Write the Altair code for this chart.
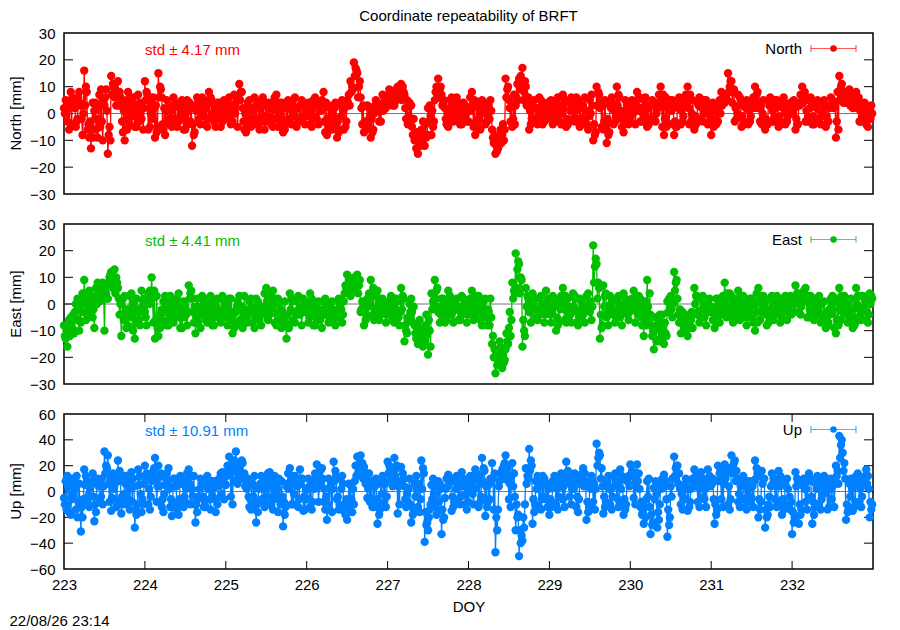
import altair as alt
import pandas as pd

FONT = "Liberation Sans"
W = 809

TITLE = "Coordinate repeatability of BRFT"
STAMP = "22/08/26 23:14"
X_LABEL = "DOY"

FIRST_DOY = 223
PER_DAY = 24  # one value per hour in each list; the lists are offset by 15 min

# ---- North (mm): on the hour, +15, +30, +45 min ----
north = [
    2, -3, 8, 5, -2, 3, 16, -6, -13, 1, -9, 9, 3, -15, 14, 6, 12, 4, -10, 8, 1, -5, 7, -2,
    12, -6, 4, -9, 15, 6, -8, 2, -5, 4, -3, 5, -6, 1, -12, 3, -2, 6, -4, 8, 0, -5, 4, -3,
    -2, 6, -3, 4, 11, 2, -7, 5, -4, 3, -6, 6, -3, 2, -5, 7, 0, -7, 4, -2, 5, -5, 3, -1,
    3, -4, 5, -2, 4, 8, -8, 2, -5, -9, 3, -6, 5, 12, 19, 15, 6, -7, 3, -9, 0, 4, -3, 6,
    5, 8, 3, 10, 11, 7, -4, 3, -10, -15, -6, -12, 2, -8, 5, 13, 7, 2, -5, 6, -2, 4, -4, 3,
    -3, 8, -8, 2, 5, -4, 3, -6, -15, -12, -8, 13, 5, -5, 3, 13, 17, 10, -6, 4, -3, 6, -4, 2,
    2, -4, 5, -3, 7, -5, 4, -2, 6, -5, 3, -4, 5, -10, 10, 2, -6, -11, 3, -4, 10, 1, -7, 3,
    -2, 4, 8, -3, 5, -5, 3, -2, 4, 10, -8, 2, 5, -8, 3, -4, 6, 10, -3, -6, 4, -2, 5, -4,
    -8, 3, -3, 8, 4, 15, 12, -3, 7, -5, 4, -4, 3, 10, 2, -4, -6, 5, -3, 5, -5, 3, -4, 2,
    3, -6, 4, 10, -3, 5, -4, 3, -2, 4, -5, 2, 5, -9, 14, 6, 4, 9, 2, 8, -3, 3, -4, 1,
]
north_15 = [
    0, 4, -4, 2, 6, -2, 3, -4, -6, 4, 2, -3, 6, -8, 7, 9, 3, -3, 2, -2, 4, 2, -3, 3,
    5, 2, -2, 3, 6, -4, 1, -2, 3, -3, 2, 0, -3, 4, -4, 1, 3, -1, 2, 4, -2, 1, -1, 2,
    3, -2, 2, 6, 5, -3, 2, -2, 1, -3, 2, -1, 3, -3, 2, 1, -3, 2, -3, 3, -1, 2, -2, 3,
    -1, 2, -2, 3, 1, -3, -2, -4, 2, -3, -1, 2, 4, 8, 14, 6, 2, -3, -4, -2, 3, 1, 2, 5,
    7, 4, 6, 8, 5, 2, -1, -5, -8, -9, -10, -4, -3, 1, 8, 6, 3, -2, 2, 1, 3, -1, 2, 0,
    2, 3, -3, -2, 1, 2, -2, -9, -12, -10, -4, 6, 2, -2, 6, 9, 5, 3, 1, -2, 2, -1, 1, -2,
    -1, 2, 1, 3, 2, -2, 1, 3, -2, 2, -3, 1, 0, -4, 3, 4, -3, -2, 2, 1, 3, -2, 1, -1,
    2, 3, 1, 2, -1, 2, -2, 3, 2, 4, -2, 3, 1, -3, 2, 1, 3, 2, 0, -1, 3, 2, 0, 1,
    -2, 1, 2, 3, 6, 8, 4, 2, 3, -1, 2, 1, 4, 5, 3, 0, -2, 3, 1, 2, -1, 2, 0, 1,
    0, -2, 3, 4, 1, 2, -1, 2, 1, 0, -1, 3, 2, -3, 5, 4, 6, 3, 5, 2, 1, -1, 0, -2,
]
north_30 = [
    5, -6, 6, -5, 8, -8, 10, -9, 4, -6, 7, -10, 9, -5, 11, 3, 8, -7, 5, -4, 6, -5, 4, -6,
    8, -5, 6, -7, 10, -6, 5, -4, 6, -5, 4, -6, 5, -3, -8, 6, -4, 5, -5, 6, -3, 4, -5, 5,
    5, -4, 7, -5, 8, -6, 4, -5, 6, -4, 5, -6, 4, -4, 6, -5, 4, -6, 5, -4, 6, -3, 5, -4,
    4, -5, 6, -4, 5, -7, 3, -6, 4, -7, 5, -5, 7, 10, 17, 10, -4, -6, 2, -7, 5, -3, 7, 2,
    9, 3, 9, 6, 10, -2, 4, -8, -13, -12, -3, -9, 3, -5, 10, 9, 4, -4, 5, -3, 6, -4, 4, -3,
    6, -5, 4, -6, 4, -3, 5, -11, -14, -6, -10, 9, -3, 7, 11, 14, 8, 6, -4, 5, -4, 5, -3, 4,
    5, -3, 6, -4, 5, -4, 6, -3, 5, -4, 6, -6, 7, -8, 8, -5, 5, -8, 6, -3, 7, -5, 5, -4,
    5, -4, 6, -3, 6, -4, 5, -3, 7, -5, 6, -4, 5, -5, 6, -3, 7, -4, 5, -4, 6, -3, 5, -3,
    4, -4, 5, 5, 7, 10, 8, -2, 6, -4, 5, -3, 6, 7, -3, 5, -4, 6, -3, 5, -4, 6, -3, 4,
    5, -4, 7, 6, -3, 6, -4, 5, -4, 5, -3, 6, 3, 8, 10, 8, 7, 6, 4, 5, -3, 4, -5, 3,
]
north_45 = [
    1, 3, 5, -3, 4, 0, 8, -3, -9, -2, -5, 5, 1, -10, 10, 8, 6, 1, -6, 4, -1, 0, 3, 2,
    7, 0, 2, -5, 9, 2, -4, 1, -2, 3, -1, 3, -4, 3, -7, 4, 1, 3, -2, 5, 2, -2, 1, 0,
    1, 3, 0, 5, 8, 0, -4, 2, -2, 4, -3, 3, -1, 4, -2, 4, -2, -4, 2, 1, 2, -2, 4, 1,
    2, -1, 3, 1, 2, 4, -5, 0, -2, -6, 1, -3, 3, 9, 16, 12, 3, -5, -1, -6, 2, 3, 1, 4,
    6, 6, 5, 9, 8, 5, -2, -2, -7, -12, -8, -8, -1, -3, 7, 10, 5, 0, -2, 4, 0, 2, -1, 1,
    1, 5, -5, 0, 3, -1, 1, -8, -13, -11, -6, 10, 3, -4, 5, 11, 12, 6, -2, 2, -1, 4, -2, 1,
    3, -1, 3, 0, 5, -3, 3, 1, 4, -2, 1, -1, 3, -7, 7, 3, -4, -7, 4, -1, 6, -1, -3, 2,
    0, 2, 6, 0, 3, -2, 4, 0, 3, 7, -5, 2, 3, -5, 4, -1, 4, 7, -1, -3, 3, 0, 3, -1,
    -5, 2, 0, 6, 5, 12, 9, 0, 5, -3, 3, -1, 2, 8, 3, -2, -4, 4, -1, 4, -3, 4, -1, 3,
    2, -4, 4, 8, -1, 4, -2, 4, -1, 3, -3, 3, 4, -6, 11, 5, 5, 7, 3, 6, -1, 2, -2, 0,
]

# ---- East (mm) ----
east = [
    -8, -16, -5, -11, 2, -7, 9, -4, 3, -9, 8, 5, -10, 2, 12, 13, 6, -12, 3, -8, 4, -13, -2, 5,
    -3, 4, 10, -13, -12, -2, 3, -8, 1, -5, 4, -9, -1, 7, 2, -11, -4, 3, -6, 2, -8, 1, -4, 3,
    -5, 2, -11, -3, 3, -9, -2, 1, -7, 2, -6, -1, 6, -4, 5, -8, 0, -5, -13, 4, -6, 1, -4, 2,
    -3, 4, -8, -1, -6, 1, -4, 0, -7, -2, -5, 1, 11, 3, 10, 11, -3, -8, 2, 9, -6, 5, -4, 1,
    -2, 3, -7, 1, 6, -14, -5, 2, -8, -15, -10, -14, -19, 4, 9, -3, 2, -7, 5, -4, 1, -6, 3, -2,
    -1, 5, -4, 3, -8, 2, -3, -15, -26, -21, -24, -17, -9, 8, 19, 15, -16, 6, -3, 4, -5, 2, -2, 5,
    -2, 3, -10, 1, 6, -7, -1, 4, -7, 2, -4, 3, -3, 22, 15, -13, 7, -5, 3, -4, 2, -5, 4, -2,
    -2, 5, -3, 2, -12, 9, -4, -17, -8, -13, -15, 1, 3, 12, 2, -11, -4, -12, -6, 6, -3, 2, -5, 1,
    -3, -9, 2, -4, 8, -2, 3, -6, 5, -4, 1, -5, 2, -10, 6, -3, 1, -7, 3, -4, 2, -5, 3, -2,
    1, 7, -3, 4, 6, -5, 2, -4, 3, -6, -9, -2, 3, -11, 6, -3, 2, -5, -9, 6, -2, 3, -6, 4,
]
east_15 = [
    -12, -10, -7, -3, -6, 0, 2, -2, 0, 3, 4, 2, 6, 8, 9, 4, 2, -4, -6, -2, -5, -3, -6, -1,
    -5, 0, 2, -6, -4, -6, -1, -4, -2, 0, -5, -2, -4, 2, -3, -5, -1, -4, -2, -5, -3, -1, -5, -2,
    -3, -6, -4, -1, -6, -3, -5, -2, -3, -4, -1, -3, 1, -2, 0, -4, -2, -6, -4, -2, -3, -4, -1, -3,
    -1, -4, -2, -5, -3, -4, -2, -5, -3, -4, -2, 4, 6, 8, 5, 4, -2, -3, -1, 3, -2, -1, -3, -2,
    -4, -1, -3, -5, -2, -8, -6, -3, -11, -9, -12, -8, -6, -2, 2, -1, -4, -2, 0, -3, -2, -1, -4, 0,
    -3, 1, -2, -1, -3, -5, -8, -12, -18, -14, -19, -11, -3, 2, 6, 4, -6, -1, -3, 0, -2, -4, 0, -2,
    -4, -1, -5, -2, 0, -3, -4, -1, -3, -5, -1, -2, 1, 8, 2, -4, -1, -3, 0, -2, -4, -1, -3, -4,
    -1, 0, -4, -5, -3, -1, -8, -10, -6, -9, -7, -3, -2, 5, -4, -6, -8, -7, -3, 0, -4, -2, -1, -3,
    -1, -4, 0, -2, 2, -3, 0, -4, 1, -2, -3, -1, -4, -3, 1, -2, -4, -3, -1, -2, 0, -3, -1, -3,
    2, 1, 0, 2, 1, -2, -3, -1, -4, -5, -6, -4, -2, -6, 0, -2, -4, -3, -5, 0, -4, -1, -3, 0,
]
east_30 = [
    -13, -6, -9, 0, -10, 4, -6, 5, -5, 6, 1, 8, 4, 10, 6, 10, -4, 2, -9, 3, -10, 2, -8, 1,
    -8, 5, -7, 3, -9, 1, -8, 3, -7, 2, -9, 1, -8, 4, -7, 2, -9, 1, -7, 3, -8, 2, -7, 1,
    -8, 2, -9, 1, -8, 3, -7, 2, -9, 1, -8, 4, -6, 3, -7, 2, -9, 1, -8, 2, -7, 3, -8, 1,
    -7, 2, -8, 1, -9, 2, -7, 1, -8, 2, -7, 7, 9, 5, 9, 7, 1, -6, 4, -4, 3, -6, 2, -7,
    1, -6, 2, -8, 3, -10, 0, -7, -13, -6, -16, -4, -10, 1, 5, -7, 2, -6, 3, -7, 2, -6, 2, -7,
    2, -6, 3, -6, 1, -8, 2, -20, -23, -16, -22, -14, -12, 5, 13, 10, -10, 3, -7, 2, -6, 3, -7, 1,
    -7, 2, -8, 3, -6, 2, -7, 3, -8, 1, -7, 4, -6, 14, 8, -9, 3, -8, 2, -7, 3, -8, 2, -6,
    2, -7, 3, -8, 1, -6, -12, -5, -14, -4, -11, 2, -5, 8, -7, -3, -10, -4, -9, 3, -7, 3, -8, 2,
    -6, 2, -7, 3, -5, 4, -7, 2, -6, 3, -8, 2, -7, 4, -6, 3, -8, 2, -6, 3, -7, 2, -6, 3,
    -3, 4, -4, 5, -5, 3, -6, 2, -7, 1, -8, 2, -9, 2, -6, 3, -7, 2, -8, 3, -6, 2, -7, 3,
]
east_45 = [
    -10, -12, -4, -6, -2, -3, 4, 1, -2, 0, 6, 4, 2, 11, 7, 8, 0, -6, -2, -4, 0, -7, -3, 2,
    0, 2, 5, -9, -8, -3, 1, -5, -1, -3, 0, -5, -3, 5, -1, -7, -2, 0, -4, -1, -5, -2, -3, 0,
    -2, -3, -7, 0, -1, -5, -3, -1, -5, -1, -3, -4, 3, -1, 2, -6, -3, -8, -9, 1, -3, -2, -3, 0,
    -5, 1, -4, -3, -2, -1, -6, -2, -5, 0, -4, 6, 9, 6, 8, 9, -1, -5, 1, 6, -4, 2, -1, -4,
    -1, 0, -5, -3, 2, -11, -3, -1, -10, -12, -14, -11, -16, 0, 6, -4, 0, -4, 2, -1, -2, -3, 0, -4,
    0, 3, -1, 1, -5, -2, -5, -17, -22, -18, -21, -15, -6, 4, 16, 9, -12, 2, -1, 2, -3, 0, -4, 2,
    -3, 0, -7, -1, 3, -5, -2, 2, -5, -1, -2, 0, -1, 17, 6, -8, 4, -2, 1, -5, 0, -2, 1, -3,
    0, 3, -2, -1, -8, 4, -10, -14, -4, -11, -12, -1, 0, 9, -2, -8, -6, -9, -4, 3, -5, 0, -3, -1,
    -2, -6, -1, 0, 4, -5, 1, -2, 3, -5, -1, -3, 0, -7, 3, 0, -2, -5, 1, -1, -2, -1, 1, -4,
    0, 4, -1, 3, 3, -3, 0, -2, 0, -4, -7, 0, 1, -8, 3, -1, 0, -2, -7, 3, -3, 1, -4, 2,
]

# ---- Up (mm) ----
up = [
    -5, 12, -18, 8, -20, -31, 17, -8, 6, -23, 10, -4, 31, 28, -15, 5, 24, -17, 12, -6, 15, -28, 17, -16,
    20, -10, 8, 26, 20, -12, 5, 18, -19, 10, -18, 6, -8, 17, 2, -24, -5, 8, -12, 6, -3, -16, 10, 15,
    5, 27, -10, 31, 18, 22, 8, -12, 6, -24, 3, -8, 10, 15, -14, 5, -6, -27, 4, 18, -10, 6, 17, -15,
    2, -12, 8, 21, 16, -8, -22, 4, 23, -6, 10, -15, -22, 5, -10, 27, 28, 19, -5, 8, -12, -25, 6, -8,
    23, 10, 26, -17, 19, 4, -8, -24, 6, -12, 24, -39, -30, 5, -10, 8, -33, -5, 13, -15, 8, -6, 15, -10,
    -8, 10, 17, -12, 26, -19, 5, 22, -47, 4, 17, 28, -6, 22, -30, -50, -38, 18, 33, -25, 8, -12, 12, -6,
    -18, 8, -10, 12, -6, 23, -4, 10, -12, 6, 18, -22, 5, -8, 37, 28, -17, 6, -10, 12, -5, 17, -18, 8,
    21, -5, 21, -12, -25, 8, -33, 3, -28, 6, 13, -35, 4, 27, 20, -10, 5, -15, 2, 17, -8, 15, -6, 17,
    5, -25, 20, -6, 21, -10, 28, 24, -8, 10, -12, 2, -5, 24, -20, 16, -28, -10, 14, -6, 16, -18, 8, -12,
    -33, 15, -25, 5, -8, 14, -25, 6, -10, 8, 10, -12, 4, 20, 43, 30, -22, 6, -15, 12, -8, 5, 17, -20,
]
up_15 = [
    -10, 4, -6, 2, -8, -12, 5, -3, 8, -10, 4, 10, 14, 6, -5, 10, 8, -4, 6, 2, -8, -14, 5, -6,
    8, 2, 12, 10, 4, -6, 10, 2, -8, 4, -6, 8, 2, 6, -4, -10, 2, -4, 4, -6, 2, -6, 6, 10,
    12, 14, 18, 20, 10, 12, 2, -6, -4, -10, 6, 2, -4, 8, -6, 2, -10, -8, 6, 8, -2, 4, 6, -4,
    -6, 4, 2, 10, 6, 2, -10, 6, 8, -4, 2, -10, -12, -6, 8, 14, 16, 10, 2, -6, 4, -10, -2, 6,
    14, 16, 12, 4, 8, -6, 2, -12, -4, 6, 2, -16, -20, -6, 4, -8, -14, 2, 6, -4, 2, 6, 4, -2,
    4, -2, 10, 6, 8, 4, -6, 10, -20, 8, 10, 14, 6, 4, -10, -30, -20, 6, 16, -6, 2, 4, -4, 6,
    -6, 4, 2, 8, 4, 10, 6, 2, -4, 10, 4, -8, 2, 6, 20, 10, -4, 8, 2, 4, 6, 2, -6, 10,
    12, 6, 8, -8, -12, -4, -18, -6, -16, 2, 4, -14, -4, 12, 6, -2, -6, 2, 8, 4, 10, 6, 2, 10,
    6, -10, 8, 12, 10, 4, 14, 8, -2, 4, 6, -4, 4, 10, -6, 6, -14, -4, 6, 8, 4, -6, 4, -4,
    -16, 4, -10, 6, 2, 8, -8, 2, 4, -2, 6, 2, 8, 12, 26, 16, -10, -4, 4, 8, 2, 10, 6, -8,
]
up_30 = [
    8, -16, 10, -14, 6, -20, 12, -12, 14, -16, 8, -10, 20, -8, 14, -12, 16, -10, 12, -14, 10, -18, 12, -10,
    14, -14, 16, -8, 12, -16, 14, -12, 10, -14, 12, -12, 14, -10, 12, -16, 10, -12, 12, -14, 8, -10, 14, -6,
    20, -4, 24, 6, 22, 14, 10, -14, 12, -16, 12, -12, 14, -10, 12, -16, 8, -18, 14, -10, 12, -12, 10, -14,
    10, -14, 14, -8, 18, -14, 10, -16, 16, -14, 12, -18, 6, -16, 20, 18, 22, 6, 14, -12, 10, -18, 12, -12,
    20, 4, 18, -10, 14, -12, 10, -18, 12, -16, 18, -26, -14, 10, -18, 6, -22, 10, 8, -12, 12, -10, 10, -14,
    12, -10, 14, -8, 18, -12, 10, -14, -30, 14, 20, 18, -12, 14, -20, -40, -28, 12, 24, -16, 12, -14, 10, -12,
    -12, 12, -14, 14, -12, 16, -10, 14, -16, 12, 14, -16, 12, -14, 26, 18, -12, 12, -14, 14, -12, 12, -14, 12,
    16, -10, 14, -18, -20, 10, -26, 8, -22, 10, 8, -26, 10, 18, 14, -14, 10, -12, 10, 12, -12, 10, -12, 12,
    10, -18, 14, -12, 14, -14, 20, 16, -12, 12, -14, 8, -12, 18, -14, 10, -20, -12, 10, -12, 12, -14, 10, -14,
    -24, 10, -18, 10, -14, 10, -18, 12, -14, 12, -14, 10, -12, 16, 36, 22, -16, 10, -12, 14, -12, 10, 12, -14,
]
up_45 = [
    -14, 6, -2, 12, -12, -6, 8, 2, -4, 6, -8, 4, 18, 10, 2, -8, 12, -2, -10, 8, 4, -10, -2, 6,
    12, -4, 18, 4, 14, -2, 6, -6, 4, -10, 6, -4, 10, 2, -10, -4, 6, -8, 2, 8, -6, 4, -2, 6,
    16, 20, 8, 14, 24, 4, -4, 6, -8, 2, -6, 8, -10, 4, -2, 10, -4, -12, 2, 12, 6, -6, 10, 2,
    4, -8, 12, 4, 10, -4, -14, 2, 12, -10, 6, -6, -16, 2, 12, 22, 10, 14, -8, 4, -6, -14, 8, -4,
    18, 6, 20, 8, 10, -2, -10, -16, 2, -6, 14, -24, -10, -2, -14, 2, -20, 4, 10, -8, 4, -4, 8, 2,
    6, 2, 12, -4, 16, -8, 8, 14, -14, 10, 22, 8, 12, -4, -18, -34, -10, 10, 20, -10, 6, -6, 6, 2,
    -8, 6, -4, 4, 10, 14, 2, 6, -6, 14, 8, -12, 8, 2, 30, 4, -8, 2, -4, 8, -8, 10, -10, 4,
    14, 10, 2, -16, -6, -12, -24, -2, -10, 8, -6, -20, 10, 20, 2, -6, 8, -8, 4, 12, 2, -4, 8, 4,
    -6, -14, 16, 6, 18, -6, 22, 10, 4, -6, 8, -8, 8, 14, -8, 10, -18, 4, 8, -10, 10, -10, 2, -8,
    -20, 8, -14, 2, 10, -4, -12, 8, -6, 4, 2, -6, 10, 6, 40, 10, -14, 2, -8, 6, -4, 12, 2, -10,
]

x_labels = list(range(223, 233))
x_inner_ticks = list(range(224, 233))
ne_labels = [-30, -20, -10, 0, 10, 20, 30]
ne_inner = [-20, -10, 0, 10, 20]
up_labels = [-60, -40, -20, 0, 20, 40, 60]
up_inner = [-40, -20, 0, 20, 40]


def series_frame(*lists):
    rows = []
    n = len(lists)
    for k, lst in enumerate(lists):
        for i, v in enumerate(lst):
            rows.append((FIRST_DOY + (i + k / n) / PER_DAY, v))
    rows.sort()
    return pd.DataFrame(rows, columns=["doy", "val"])


def make_panel(name, df, color, std_text, ydom, ylabels, yinner, height,
               bottom=False, top=False):
    xscale = alt.Scale(domain=[223, 233], nice=False, zero=False)
    yscale = alt.Scale(domain=ydom, nice=False, zero=False)
    if bottom:
        xaxis = alt.Axis(values=x_labels, format="d", title=X_LABEL, ticks=False,
                         tickSize=0, domain=False, grid=False, labelPadding=8,
                         titlePadding=7, labelFlush=False, labelOverlap=False)
    else:
        xaxis = None
    yaxis = alt.Axis(values=ylabels, format="d", title=None, ticks=False,
                     tickSize=0, domain=False, grid=False, labelPadding=9,
                     labelFlush=False, labelOverlap=False)
    X = alt.X("doy:Q", scale=xscale, axis=xaxis)
    Y = alt.Y("val:Q", scale=yscale, axis=yaxis)

    layers = []
    zero = alt.Chart(pd.DataFrame({"val": [0]})).mark_rule(
        color="#777777", strokeWidth=1).encode(y=Y)
    layers.append(zero)

    yt = pd.DataFrame({"val": yinner})
    layers.append(alt.Chart(yt).mark_rule(color="black", strokeWidth=1).encode(
        y=Y, x=alt.value(0), x2=alt.value(9)))
    layers.append(alt.Chart(yt).mark_rule(color="black", strokeWidth=1).encode(
        y=Y, x=alt.value(W - 9), x2=alt.value(W)))
    if bottom:
        xt = pd.DataFrame({"doy": x_inner_ticks})
        layers.append(alt.Chart(xt).mark_rule(color="black", strokeWidth=1).encode(
            x=X, y=alt.value(0), y2=alt.value(8)))
        layers.append(alt.Chart(xt).mark_rule(color="black", strokeWidth=1).encode(
            x=X, y=alt.value(height - 8), y2=alt.value(height)))

    line = alt.Chart(df).mark_line(color=color, strokeWidth=1.3).encode(x=X, y=Y)
    pts = alt.Chart(df).mark_point(filled=True, color=color, size=70, opacity=1,
                                   shape="circle").encode(x=X, y=Y)
    layers += [line, pts]

    ytitle = alt.Chart(pd.DataFrame({"t": [f"{name} [mm]"]})).mark_text(
        align="center", baseline="middle", angle=270, font=FONT, fontSize=15,
        color="black"
    ).encode(x=alt.value(-48), y=alt.value(height / 2), text="t:N")
    std = alt.Chart(pd.DataFrame({"t": [std_text]})).mark_text(
        align="left", baseline="middle", font=FONT, fontSize=15, color=color
    ).encode(x=alt.value(81), y=alt.value(16.5), text="t:N")
    leg_txt = alt.Chart(pd.DataFrame({"t": [name]})).mark_text(
        align="right", baseline="middle", font=FONT, fontSize=15, color="black"
    ).encode(x=alt.value(738), y=alt.value(15.5), text="t:N")
    one = pd.DataFrame({"k": [0]})
    leg_line = alt.Chart(one).mark_rule(color=color, strokeWidth=1.2, opacity=0.65).encode(
        x=alt.value(747), x2=alt.value(792), y=alt.value(15.5))
    cap1 = alt.Chart(one).mark_rule(color=color, strokeWidth=1.2, opacity=0.65).encode(
        x=alt.value(747), y=alt.value(12), y2=alt.value(19))
    cap2 = alt.Chart(one).mark_rule(color=color, strokeWidth=1.2, opacity=0.65).encode(
        x=alt.value(792), y=alt.value(12), y2=alt.value(19))
    leg_pt = alt.Chart(one).mark_point(filled=True, color=color, size=42, opacity=1,
                                       shape="circle").encode(
        x=alt.value(769.5), y=alt.value(15.5))
    layers += [ytitle, std, leg_txt, leg_line, cap1, cap2, leg_pt]

    if top:
        layers.append(alt.Chart(pd.DataFrame({"t": [TITLE]})).mark_text(
            align="center", baseline="alphabetic", font=FONT, fontSize=15, color="black"
        ).encode(x=alt.value(W / 2), y=alt.value(-12), text="t:N"))
    if bottom:
        layers.append(alt.Chart(pd.DataFrame({"t": [STAMP]})).mark_text(
            align="left", baseline="alphabetic", font=FONT, fontSize=15, color="black"
        ).encode(x=alt.value(-54.5), y=alt.value(212), text="t:N"))

    return alt.layer(*layers).properties(width=W, height=height)


p1 = make_panel("North", series_frame(north, north_15, north_30, north_45), "#ff0000",
                "std \u00b1 4.17 mm", [-30, 30], ne_labels, ne_inner, 161, top=True)
p2 = make_panel("East", series_frame(east, east_15, east_30, east_45), "#00c000",
                "std \u00b1 4.41 mm", [-30, 30], ne_labels, ne_inner, 160)
p3 = make_panel("Up", series_frame(up, up_15, up_30, up_45), "#0080ff",
                "std \u00b1 10.91 mm", [-60, 60], up_labels, up_inner, 155, bottom=True)

chart = alt.vconcat(p1, p2, p3, spacing=30, bounds="flush").properties(
    padding={"left": 0, "top": 0, "right": 0, "bottom": 0}
).configure_view(
    stroke="black", strokeWidth=1.5
).configure_axis(
    labelFont=FONT, titleFont=FONT, labelFontSize=15, titleFontSize=15,
    titleFontWeight="normal", labelColor="black", titleColor="black"
)

chart.save("out.html", embed_options={"renderer": "svg", "actions": False})
